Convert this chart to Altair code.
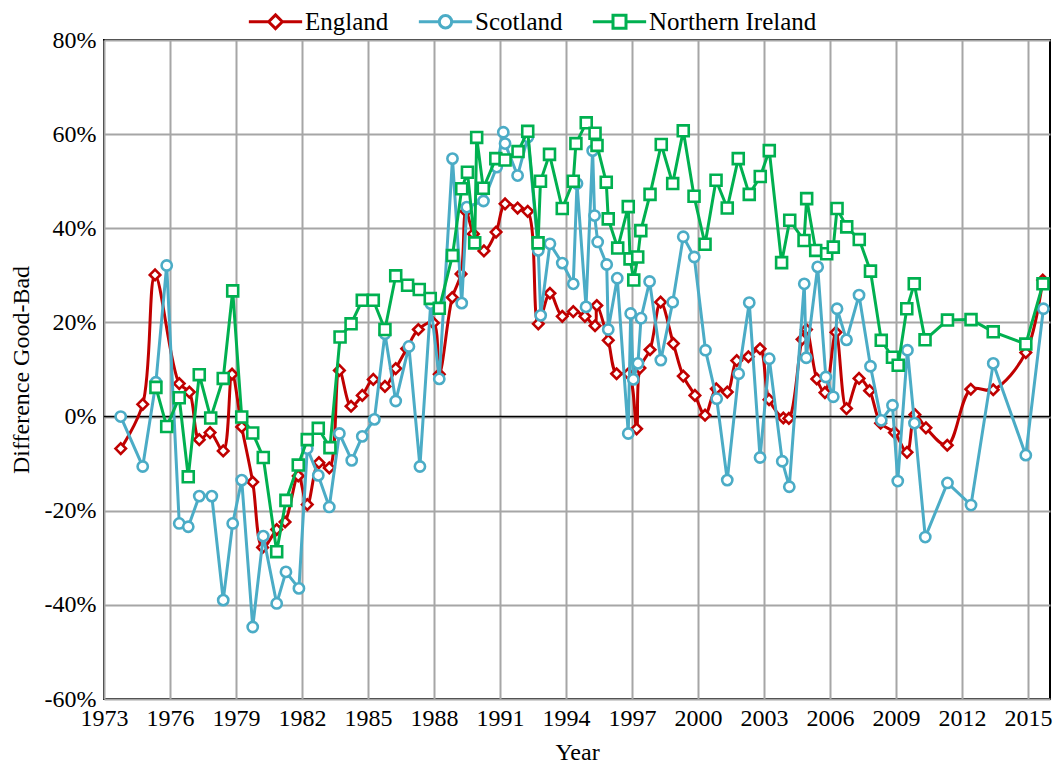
import altair as alt
import pandas as pd

# ---------------- data ----------------
eng_year = [1973.76, 1974.76, 1975.32, 1976.42, 1976.88, 1977.33, 1977.82, 1978.42, 1978.82, 1979.26,
            1979.76, 1980.21, 1980.85, 1981.23, 1981.83, 1982.24, 1982.77, 1983.24, 1983.70, 1984.23,
            1984.74, 1985.24, 1985.77, 1986.26, 1986.76, 1987.29, 1987.97, 1988.24, 1988.83, 1989.23,
            1989.45, 1989.79, 1990.27, 1990.82, 1991.23, 1991.80, 1992.26, 1992.74, 1993.27, 1993.83,
            1994.33, 1994.86, 1995.32, 1995.40, 1995.92, 1996.30, 1996.83, 1997.21, 1997.36, 1997.82,
            1998.30, 1998.88, 1999.33, 1999.86, 2000.32, 2000.83, 2001.33, 2001.76, 2002.29, 2002.82,
            2003.23, 2003.88, 2004.13, 2004.73, 2004.93, 2005.40, 2005.77, 2006.27, 2006.75, 2007.32,
            2007.80, 2008.30, 2008.93, 2009.50, 2009.86, 2010.36, 2011.33, 2012.40, 2013.42, 2014.90,
            2015.67]
eng_val = [-6.8, 2.6, 30.1, 7.0, 5.2, -4.9, -3.4, -7.3, 9.0, -2.2,
           -13.9, -27.8, -24.0, -22.4, -12.6, -18.7, -9.8, -10.9, 9.8, 2.2,
           4.5, 7.9, 6.4, 10.2, 14.4, 18.5, 19.9, 9.0, 25.3, 30.3,
           43.6, 38.8, 35.2, 39.2, 45.2, 44.3, 43.6, 19.7, 26.2, 21.3,
           22.3, 21.3, 19.3, 23.6, 16.2, 9.1, 9.1, -2.6, 10.3, 14.2,
           24.3, 15.5, 8.6, 4.5, 0.3, 5.9, 5.2, 11.9, 12.7, 14.4,
           3.6, -0.3, -0.4, 16.4, 18.5, 8.0, 5.1, 17.9, 1.7, 8.1,
           5.5, -1.4, -3.4, -7.6, 0.4, -2.4, -6.1, 5.8, 5.7, 13.6,
           29.0]

sco_year = [1973.76, 1974.76, 1975.36, 1975.85, 1976.42, 1976.83, 1977.33, 1977.90, 1978.42, 1978.85,
            1979.26, 1979.76, 1980.24, 1980.85, 1981.27, 1981.86, 1982.24, 1982.74, 1983.24, 1983.70,
            1984.26, 1984.74, 1985.29, 1985.77, 1986.26, 1986.86, 1987.36, 1987.85, 1988.24, 1988.84,
            1989.26, 1989.49, 1990.25, 1990.85, 1991.15, 1991.23, 1991.80, 1992.27, 1992.74, 1992.85,
            1993.27, 1993.83, 1994.33, 1994.50, 1994.91, 1995.21, 1995.30, 1995.44, 1995.85, 1995.92,
            1996.33, 1996.83, 1996.94, 1997.06, 1997.27, 1997.41, 1997.80, 1998.31, 1998.85, 1999.33,
            1999.83, 2000.34, 2000.85, 2001.33, 2001.85, 2002.33, 2002.82, 2003.24, 2003.83, 2004.15,
            2004.83, 2004.92, 2005.44, 2005.81, 2006.15, 2006.32, 2006.75, 2007.32, 2007.84, 2008.33,
            2008.84, 2009.08, 2009.52, 2009.84, 2010.33, 2011.34, 2012.41, 2013.42, 2014.90, 2015.70]
sco_val = [0.0, -10.6, 7.3, 32.1, -22.7, -23.4, -16.9, -16.9, -39.0, -22.7,
           -13.5, -44.7, -25.4, -39.7, -33.0, -36.5, -6.8, -12.5, -19.2, -3.6,
           -9.3, -4.2, -0.6, 17.6, 3.3, 14.9, -10.6, 24.0, 8.0, 54.8,
           24.1, 44.5, 45.8, 53.0, 60.4, 58.0, 51.2, 59.4, 35.3, 21.5,
           36.7, 32.6, 28.2, 49.5, 23.3, 56.5, 42.7, 37.1, 32.3, 18.5,
           29.4, -3.6, 21.9, 7.9, 11.3, 20.9, 28.7, 12.0, 24.3, 38.2,
           33.9, 14.1, 3.8, -13.5, 9.1, 24.2, -8.7, 12.3, -9.5, -14.9,
           28.2, 12.5, 31.8, 8.4, 4.2, 22.9, 16.3, 25.8, 10.7, -0.8,
           2.4, -13.7, 14.1, -1.4, -25.6, -14.1, -18.8, 11.3, -8.2, 22.9]

ni_year = [1975.36, 1975.85, 1976.42, 1976.83, 1977.33, 1977.85, 1978.42, 1978.85, 1979.26, 1979.76,
           1980.24, 1980.85, 1981.27, 1981.83, 1982.24, 1982.74, 1983.27, 1983.73, 1984.23, 1984.74,
           1985.24, 1985.77, 1986.26, 1986.80, 1987.33, 1987.83, 1988.24, 1988.84, 1989.26, 1989.52,
           1989.85, 1989.94, 1990.24, 1990.81, 1991.23, 1991.82, 1992.26, 1992.73, 1992.84, 1993.25,
           1993.83, 1994.33, 1994.45, 1994.92, 1995.32, 1995.41, 1995.83, 1995.92, 1996.35, 1996.83,
           1996.91, 1997.08, 1997.26, 1997.40, 1997.82, 1998.33, 1998.85, 1999.33, 1999.82, 2000.32,
           2000.82, 2001.33, 2001.83, 2002.33, 2002.83, 2003.24, 2003.80, 2004.17, 2004.82, 2004.94,
           2005.35, 2005.85, 2006.15, 2006.32, 2006.76, 2007.33, 2007.84, 2008.33, 2008.84, 2009.10,
           2009.49, 2009.83, 2010.32, 2011.34, 2012.41, 2013.42, 2014.90, 2015.68]
ni_val = [6.2, -2.1, 4.0, -12.8, 8.9, -0.3, 8.1, 26.7, -0.1, -3.5,
          -8.7, -28.7, -17.8, -10.3, -4.9, -2.5, -6.6, 16.9, 19.7, 24.7,
          24.7, 18.5, 29.9, 27.9, 27.0, 25.1, 23.0, 34.2, 48.4, 51.9,
          36.9, 59.3, 48.5, 54.8, 54.5, 56.3, 60.6, 36.9, 50.0, 55.7,
          44.2, 50.0, 58.0, 62.4, 60.2, 57.6, 49.8, 42.0, 35.8, 44.6,
          33.5, 29.0, 33.9, 39.5, 47.2, 57.8, 49.5, 60.7, 46.8, 36.6,
          50.2, 44.3, 54.8, 47.2, 51.0, 56.5, 32.7, 41.7, 37.4, 46.3,
          35.3, 34.6, 36.0, 44.2, 40.3, 37.6, 30.9, 16.2, 12.6, 10.9,
          22.9, 28.2, 16.3, 20.5, 20.6, 18.0, 15.4, 28.2]

series_names = ["England", "Scotland", "Northern Ireland"]
series_colors = ["#C00000", "#4BACC6", "#00B050"]
x_ticks = list(range(1973, 2016, 3))
y_ticks = [-60, -40, -20, 0, 20, 40, 60, 80]

FONT = "Liberation Serif"

# legend symbols: a line with the series marker in its middle
# (marker fills the nominal -1..1 box, the line runs out to +-4.1)
legend_paths = [
    "M-4.1,0L-1.05,0M1.05,0L4.1,0M0,-1.05L1.05,0L0,1.05L-1.05,0Z",
    "M-4.1,0L-0.95,0M0.95,0L4.1,0M0.95,0A0.95,0.95,0,1,1,-0.95,0A0.95,0.95,0,1,1,0.95,0Z",
    "M-4.1,0L-1,0M1,0L4.1,0M-1,-1L1,-1L1,1L-1,1Z",
]


def frame(years, vals):
    return pd.DataFrame({"year": years, "value": vals})


x_enc = alt.X(
    "year:Q",
    scale=alt.Scale(domain=[1973, 2016], nice=False, zero=False),
    axis=alt.Axis(values=x_ticks, format="d", title="Year", grid=True, ticks=False,
                  domain=False, labelPadding=7, titlePadding=10, labelFlush=False),
)
y_enc = alt.Y(
    "value:Q",
    scale=alt.Scale(domain=[-60, 80], nice=False),
    axis=alt.Axis(values=y_ticks, labelExpr="datum.value + '%'", title="Difference Good-Bad",
                  grid=True, ticks=False, domain=False, labelPadding=8, titlePadding=11),
)

zero_rule = alt.Chart(pd.DataFrame({"z": [0]})).mark_rule(color="black", strokeWidth=1.6).encode(
    y=alt.Y("z:Q", scale=alt.Scale(domain=[-60, 80], nice=False))
)


def series_layer(years, vals, color, shape, size, interp):
    base = alt.Chart(frame(years, vals))
    line = base.mark_line(color=color, strokeWidth=3, interpolate=interp).encode(x=x_enc, y=y_enc)
    pts = base.mark_point(shape=shape, size=size, filled=False, fill="white", fillOpacity=1,
                          stroke=color, strokeWidth=2.6, opacity=1).encode(x=x_enc, y=y_enc)
    return line + pts


eng = series_layer(eng_year, eng_val, series_colors[0], "diamond", 110, "catmull-rom")
sco = series_layer(sco_year, sco_val, series_colors[1], "circle", 105, "linear")
ni = series_layer(ni_year, ni_val, series_colors[2], "square", 120, "linear")

leg = alt.Legend(
    title=None, orient="none", legendX=159, legendY=-31, direction="horizontal",
    symbolSize=169, symbolStrokeWidth=3, symbolOpacity=1, symbolFillColor="white",
    labelFont=FONT, labelFontSize=25, labelColor="black", labelOffset=17,
    columnPadding=23, padding=0, labelLimit=400,
)
legend_layer = alt.Chart(pd.DataFrame({"series": series_names})).mark_point(
    opacity=0, filled=False, strokeWidth=3
).encode(
    color=alt.Color("series:N", scale=alt.Scale(domain=series_names, range=series_colors), legend=leg),
    shape=alt.Shape("series:N", scale=alt.Scale(domain=series_names, range=legend_paths), legend=leg),
)

chart = alt.layer(zero_rule, eng, sco, ni, legend_layer).properties(
    width=946, height=659,
    autosize=alt.AutoSizeParams(type="none"),
    padding={"left": 96, "top": 32, "right": 6, "bottom": 64},
    background="white",
).configure_view(
    stroke="black", strokeWidth=2
).configure_axis(
    gridColor="#A6A6A6", gridWidth=2, labelFont=FONT, labelFontSize=24, labelColor="black",
    titleFont=FONT, titleFontSize=24, titleColor="black", titleFontWeight="normal",
)

chart.save("out.html", embed_options={"renderer": "svg", "actions": False})
